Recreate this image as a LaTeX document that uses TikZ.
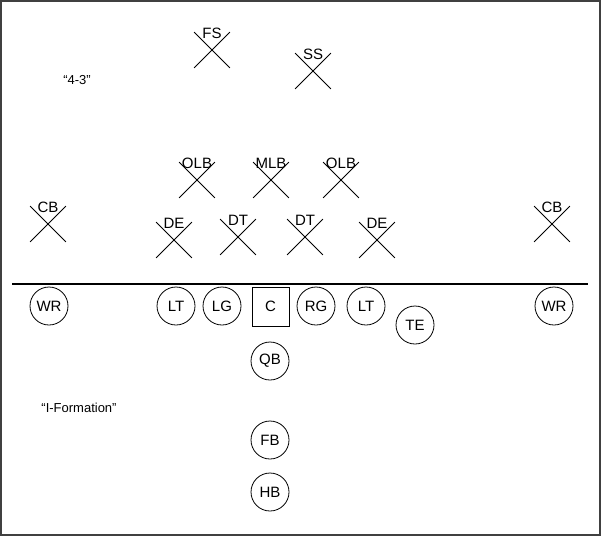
\documentclass[tikz,border=0pt]{standalone}
\usepackage{fontspec}
\setmainfont{Liberation Sans}
\usepackage{xcolor}
\usetikzlibrary{shapes.misc,positioning}
\definecolor{framegray}{HTML}{404040}

\begin{document}
\begin{tikzpicture}[x=1pt,y=-1pt,
  defender/.style={cross out,draw,line width=.8pt,inner sep=0pt,minimum size=35pt,
    label={[label distance=-10pt,font=\fontsize{15}{18}\selectfont]above:#1}},
  player/.style={circle,draw,line width=.8pt,inner sep=0pt,minimum size=38pt,font=\fontsize{15}{18}\selectfont},
  snapper/.style={rectangle,draw,line width=.8pt,inner sep=0pt,minimum width=37pt,minimum height=39pt,font=\fontsize{15}{18}\selectfont},
  note/.style={font=\fontsize{13}{16}\selectfont}]
\useasboundingbox (0,0) rectangle (601,536);
\draw[framegray,line width=1.5pt] (1,1) rectangle (600,535);
% defense
\node[defender=FS] (fs) at (212,50) {};
\node[defender=SS] (ss) at (313,71) {};
\node[defender=OLB] (olbl) at (197,180) {};
\node[defender=MLB] (mlb) at (271,180) {};
\node[defender=OLB] (olbr) at (341,180) {};
\node[defender=CB] (cbl) at (48,224) {};
\node[defender=DE] (del) at (174,240) {};
\node[defender=DT] (dtl) at (238,237) {};
\node[defender=DT] (dtr) at (305,237) {};
\node[defender=DE] (der) at (377,240) {};
\node[defender=CB] (cbr) at (552,224) {};
\node[note] (fourthree) at (77,80) {“4-3”};
% line of scrimmage
\coordinate (losw) at (12,284); \coordinate (lose) at (588,284);
\draw[line width=1.5pt] (losw)--(lose);
% offense
\node[player] (wrl) at (49,306) {WR};
\node[player] (ltl) at (176,306) {LT};
\node[player] (lg) at (222,306) {LG};
\node[snapper] (c) at (270.5,306.5) {C};
\node[player] (rg) at (316,306) {RG};
\node[player] (ltr) at (366,306) {LT};
\node[player] (te) at (415,325) {TE};
\node[player] (wrr) at (554,306) {WR};
\node[player] (qb) at (270,361) {QB};
\node[player] (fb) at (270,440) {FB};
\node[player] (hb) at (270,492) {HB};
\node[note] (iform) at (79,408) {“I-Formation”};
\end{tikzpicture}
\end{document}
